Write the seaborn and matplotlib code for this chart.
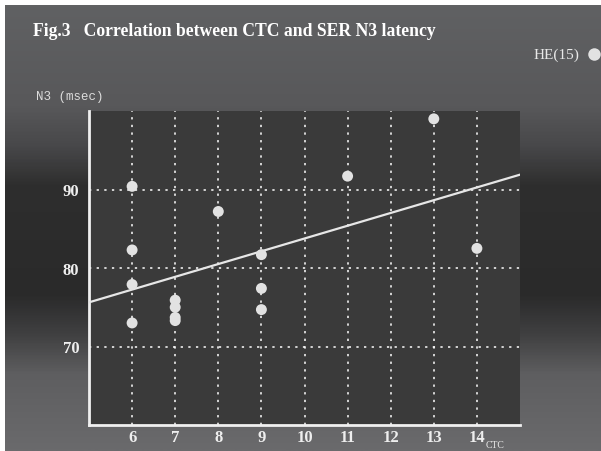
import numpy as np
import matplotlib
matplotlib.use("Agg")
import matplotlib.pyplot as plt
import seaborn as sns
import pandas as pd
from matplotlib.lines import Line2D
from matplotlib.colors import LinearSegmentedColormap

# data (HE, n=15)
ctc = [6, 6, 6, 6, 7, 7, 7, 7, 8, 9, 9, 9, 11, 13, 14]
n3 = [90.4, 82.3, 77.9, 73.0, 75.9, 75.0, 73.7, 73.3, 87.2,
      81.7, 77.4, 74.7, 91.7, 99.0, 82.5]
xticks = [6, 7, 8, 9, 10, 11, 12, 13, 14]
yticks = [70, 80, 90]

df = pd.DataFrame({'CTC': ctc, 'N3': n3})

sns.set_style("dark", {'axes.facecolor': '#3a3a3a'})
plt.rcParams['font.family'] = ['Liberation Serif', 'DejaVu Serif']

W, H = 601, 452
fig = plt.figure(figsize=(W / 100, H / 100), dpi=100, facecolor='white')

# gradient background (white strip on top and left like the scan)
bg = fig.add_axes([5 / W, 0, 1 - 5 / W, 1 - 6 / H], zorder=-10)
stops = [(0.0, '#606163'), (100 / 446, '#58585a'), (140 / 446, '#48484a'),
         (180 / 446, '#2e2e2e'), (290 / 446, '#2a2a2a'), (330 / 446, '#404041'),
         (370 / 446, '#5e5e60'), (1.0, '#6a6a6c')]
cmap = LinearSegmentedColormap.from_list('bgfade', stops)
bg.imshow(np.linspace(0, 1, 400).reshape(-1, 1), aspect='auto', cmap=cmap,
          extent=[0, 1, 0, 1])
bg.set_axis_off()

ax = fig.add_axes([89 / W, 1 - 426 / H, (520 - 89) / W, (426 - 112) / H])
ax.set_xlim(5, 15)
ax.set_ylim(60, 100)

sns.regplot(data=df, x='CTC', y='N3', ax=ax, ci=None, truncate=False,
            scatter_kws={'s': 62, 'color': '#e2e2e2', 'alpha': 1,
                         'edgecolors': 'none', 'zorder': 4},
            line_kws={'color': '#e6e6e6', 'lw': 1.6, 'zorder': 3})

ax.set_xlim(5, 15)
ax.set_ylim(60, 100)
ax.set_xticks(xticks)
ax.set_yticks(yticks)
ax.set_xlabel('')
ax.set_ylabel('')
ax.grid(True, color='white', linestyle=(0, (1.5, 3.5)), linewidth=1.1)
ax.tick_params(length=0, colors='#eeeeee', labelsize=12)
ax.tick_params(axis='x', pad=3)
ax.tick_params(axis='y', pad=7)
for lab in ax.get_xticklabels() + ax.get_yticklabels():
    lab.set_fontweight('bold')

for side in ['top', 'right']:
    ax.spines[side].set_visible(False)
for side in ['left', 'bottom']:
    ax.spines[side].set_visible(True)
    ax.spines[side].set_color('#f0f0f0')
    ax.spines[side].set_linewidth(2)

fig.text(33 / W, 1 - 32 / H, 'Fig.3   Correlation between CTC and SER N3 latency',
         color='white', fontsize=12.7, fontweight='bold', va='center', ha='left')
fig.text(36 / W, 1 - 97 / H, 'N3 (msec)', color='#dddddd', fontsize=9,
         family=['Liberation Mono', 'DejaVu Sans Mono'], va='center', ha='left')
fig.text(534 / W, 1 - 55 / H, 'HE(15)', color='#e8e8e8', fontsize=11,
         va='center', ha='left')
fig.add_artist(Line2D([594 / W], [1 - 55 / H], marker='o', markersize=9,
                      color='#e2e2e2', markeredgewidth=0,
                      transform=fig.transFigure))
fig.text(486 / W, 2 / H, 'CTC', color='#e8e8e8', fontsize=7,
         va='bottom', ha='left')

fig.savefig('out.png', dpi=100, facecolor=fig.get_facecolor())
